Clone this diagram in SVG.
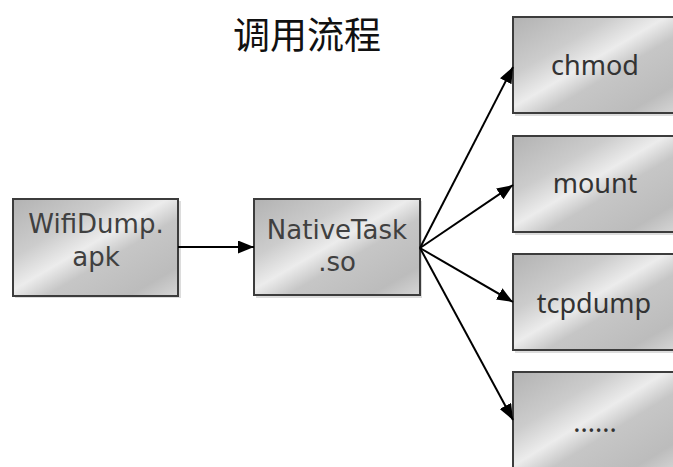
<svg xmlns="http://www.w3.org/2000/svg" width="673" height="467" viewBox="0 0 673 467">
<defs>
<linearGradient id="metal" x1="0" y1="0" x2="1" y2="1">
<stop offset="0" stop-color="#b2b2b2"/>
<stop offset="0.3" stop-color="#cccccc"/>
<stop offset="0.47" stop-color="#ececec"/>
<stop offset="0.6" stop-color="#c6c6c6"/>
<stop offset="0.85" stop-color="#bcbcbc"/>
<stop offset="1" stop-color="#d6d6d6"/>
</linearGradient>
<marker id="arr" markerUnits="userSpaceOnUse" markerWidth="16" markerHeight="13" refX="16" refY="6.5" orient="auto">
<path d="M0,0 L16,6.5 L0,13 Z" fill="#000"/>
</marker>
</defs>
<style>
.box{fill:url(#metal);stroke:#3c3c3c;stroke-width:2}
.shadow{fill:#dcdcdc}
.gt{font-family:"DejaVu Sans","Liberation Sans",sans-serif;font-size:26px;fill:#404040;text-anchor:middle}
.rt{font-family:"Noto Sans","Open Sans",sans-serif;font-size:27px;fill:#333;text-anchor:middle}
.edge{stroke:#000;stroke-width:2;fill:none;marker-end:url(#arr)}
.title{font-family:"Noto Sans CJK SC","Noto Sans",sans-serif;font-size:37px;fill:#111;text-anchor:middle}
</style>
<rect width="673" height="467" fill="#fff"/>
<text class="title" x="307" y="49">调用流程</text>
<g id="wifidump">
<rect class="shadow" x="15" y="201" width="166" height="97"/>
<rect class="box" x="13" y="199" width="165" height="97"/>
<text class="gt" x="96" y="233">WifiDump.</text>
<text class="gt" x="96" y="266">apk</text>
</g>
<g id="nativetask">
<rect class="shadow" x="256" y="201" width="166" height="97"/>
<rect class="box" x="254" y="199" width="166" height="96"/>
<text class="gt" x="337" y="239">NativeTask</text>
<text class="gt" x="337" y="271">.so</text>
</g>
<g id="chmod">
<rect class="shadow" x="515" y="19" width="165" height="97"/>
<rect class="box" x="513" y="17" width="163" height="96"/>
<text class="rt" x="595" y="75">chmod</text>
</g>
<g id="mount">
<rect class="shadow" x="515" y="138" width="165" height="97"/>
<rect class="box" x="513" y="136" width="163" height="96"/>
<text class="rt" x="595" y="193">mount</text>
</g>
<g id="tcpdump">
<rect class="shadow" x="515" y="256" width="165" height="97"/>
<rect class="box" x="513" y="254" width="163" height="96"/>
<text class="rt" x="594" y="313">tcpdump</text>
</g>
<g id="more">
<rect class="shadow" x="515" y="374" width="165" height="97"/>
<rect class="box" x="513" y="372" width="163" height="100"/>
<text class="rt" x="595" y="432">......</text>
</g>
<g id="connectors">
<line class="edge" x1="178" y1="247" x2="254" y2="247"/>
<line class="edge" x1="420" y1="248" x2="513" y2="67"/>
<line class="edge" x1="420" y1="248" x2="513" y2="185"/>
<line class="edge" x1="420" y1="248" x2="513" y2="302"/>
<line class="edge" x1="420" y1="248" x2="513" y2="420"/>
</g>
</svg>
